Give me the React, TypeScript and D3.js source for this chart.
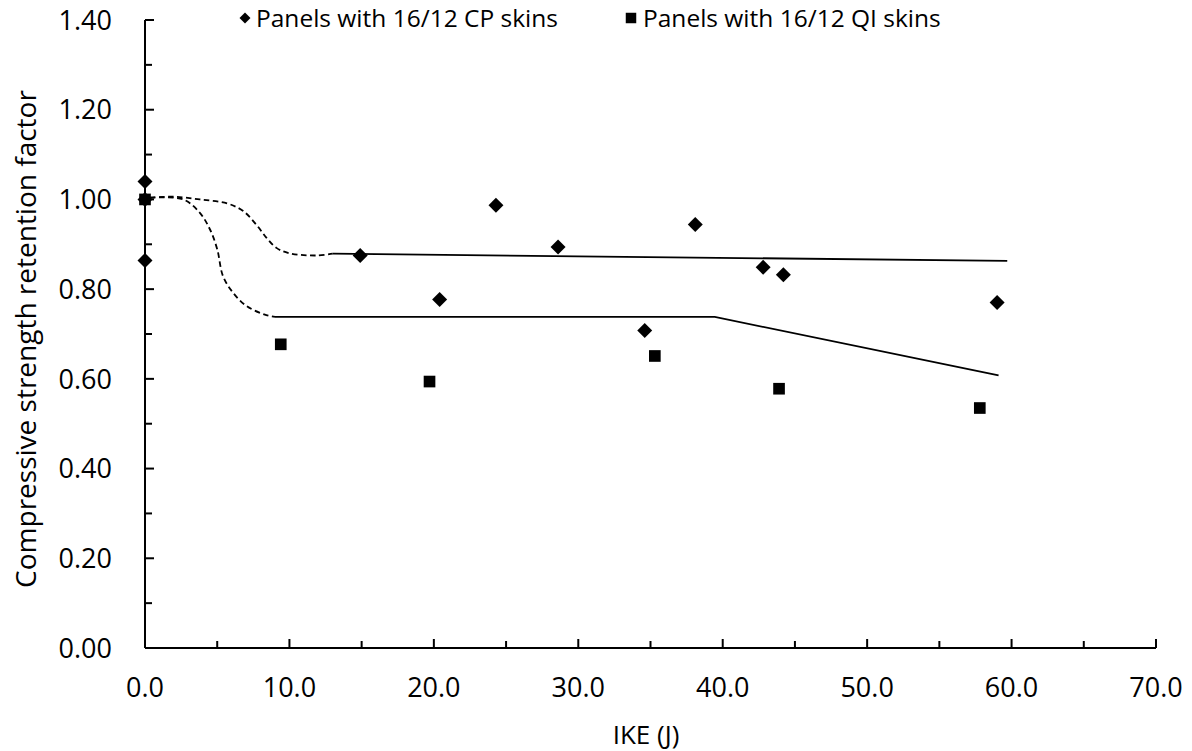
import React, { useEffect } from 'react';
import * as d3 from 'd3';

// values
const cpIKE = [0, 0, 0, 14.9, 20.4, 24.3, 28.6, 34.6, 38.1, 42.8, 44.2, 59.0];
const cpCSRF = [1.04, 1.0, 0.864, 0.875, 0.777, 0.987, 0.894, 0.708, 0.944, 0.849, 0.832, 0.77];

const qiIKE = [0, 9.4, 19.7, 35.3, 43.9, 57.8];
const qiCSRF = [1.0, 0.677, 0.594, 0.651, 0.578, 0.535];

// trend lines (solid) and the dashed transitions near zero energy
const cpTrendIKE = [13.0, 59.7];
const cpTrendCSRF = [0.879, 0.863];
const qiTrendIKE = [9.0, 39.45, 59.1];
const qiTrendCSRF = [0.738, 0.738, 0.608];

const cpDashIKE = [0.35, 2.0, 3.8, 5.7, 6.8, 7.7, 8.4, 9.1, 10.0, 11.9, 13.0];
const cpDashCSRF = [1.004, 1.006, 1.0, 0.991, 0.974, 0.944, 0.915, 0.892, 0.88, 0.875, 0.879];
const qiDashIKE = [0.35, 2.65, 3.8, 4.5, 5.0, 5.4, 6.1, 7.05, 8.4, 9.0];
const qiDashCSRF = [1.004, 1.0, 0.97, 0.933, 0.889, 0.829, 0.792, 0.762, 0.742, 0.738];

const xTicks = [0, 10, 20, 30, 40, 50, 60, 70];
const xMinor = [5, 15, 25, 35, 45, 55, 65];
const yTicks = [0, 0.2, 0.4, 0.6, 0.8, 1.0, 1.2, 1.4];
const yMinor = [0.1, 0.3, 0.5, 0.7, 0.9, 1.1, 1.3];

const legendLabels = ['Panels with 16/12 CP skins', 'Panels with 16/12 QI skins'];

const W = 1192;
const H = 751;
const FONT = "'Open Sans', sans-serif";

const zip = (xs: number[], ys: number[]) => xs.map((x, i) => [x, ys[i]] as [number, number]);

export default function App() {
  useEffect(() => {
    document.body.style.margin = '0';
  }, []);

  const x = d3.scaleLinear().domain([0, 70]).range([145, 1156]);
  const y = d3.scaleLinear().domain([0, 1.4]).range([648, 20]);

  const straight = d3.line<[number, number]>().x(d => x(d[0])).y(d => y(d[1]));
  const smooth = d3.line<[number, number]>().x(d => x(d[0])).y(d => y(d[1])).curve(d3.curveCatmullRom.alpha(0.5));

  const diamond = d3.symbol().type(d3.symbolSquare).size(112)();
  const square = d3.symbol().type(d3.symbolSquare).size(136)();
  const legDiamond = d3.symbol().type(d3.symbolSquare).size(60)();
  const legSquare = d3.symbol().type(d3.symbolSquare).size(110)();

  const x0 = x(0);
  const y0 = y(0);

  return (
    <svg width={W} height={H} style={{ display: 'block', background: '#fff' }} fontFamily={FONT}>
      {/* trend lines */}
      <path d={straight(zip(cpTrendIKE, cpTrendCSRF)) || ''} fill="none" stroke="#000" strokeWidth={1.8} />
      <path d={straight(zip(qiTrendIKE, qiTrendCSRF)) || ''} fill="none" stroke="#000" strokeWidth={1.8} />
      <path d={smooth(zip(cpDashIKE, cpDashCSRF)) || ''} fill="none" stroke="#000" strokeWidth={1.8} strokeDasharray="5.5,3.5" />
      <path d={smooth(zip(qiDashIKE, qiDashCSRF)) || ''} fill="none" stroke="#000" strokeWidth={1.8} strokeDasharray="5.5,3.5" />

      {/* axes */}
      <line x1={x0} x2={x0} y1={y(1.4)} y2={y0} stroke="#000" strokeWidth={2} />
      <line x1={x0} x2={x(70)} y1={y0} y2={y0} stroke="#000" strokeWidth={2} />
      {yTicks.map(t => (
        <g key={'y' + t}>
          <line x1={x0} x2={x0 + 9} y1={y(t)} y2={y(t)} stroke="#000" strokeWidth={2} />
          <text x={112} y={y(t)} dy="0.36em" textAnchor="end" fontSize={27} fill="#000">
            {d3.format('.2f')(t)}
          </text>
        </g>
      ))}
      {yMinor.map(t => (
        <line key={'ym' + t} x1={x0} x2={x0 + 7} y1={y(t)} y2={y(t)} stroke="#000" strokeWidth={2} />
      ))}
      {xTicks.map(t => (
        <g key={'x' + t}>
          <line x1={x(t)} x2={x(t)} y1={y0} y2={y0 - 9} stroke="#000" strokeWidth={2} />
          <text x={x(t)} y={697} textAnchor="middle" fontSize={27} fill="#000">
            {d3.format('.1f')(t)}
          </text>
        </g>
      ))}
      {xMinor.map(t => (
        <line key={'xm' + t} x1={x(t)} x2={x(t)} y1={y0} y2={y0 - 7} stroke="#000" strokeWidth={2} />
      ))}

      {/* axis titles */}
      <text x={646} y={744} textAnchor="middle" fontSize={26} fill="#000">IKE (J)</text>
      <text transform={`translate(36,${339}) rotate(-90)`} textAnchor="middle" fontSize={28} fill="#000">
        Compressive strength retention factor
      </text>

      {/* points */}
      {zip(cpIKE, cpCSRF).map((d, i) => (
        <path key={'cp' + i} d={diamond || ''} transform={`translate(${x(d[0])},${y(d[1])}) rotate(45)`} fill="#000" />
      ))}
      {zip(qiIKE, qiCSRF).map((d, i) => (
        <path key={'qi' + i} d={square || ''} transform={`translate(${x(d[0])},${y(d[1])})`} fill="#000" />
      ))}

      {/* legend */}
      <path d={legDiamond || ''} transform="translate(245,18) rotate(45)" fill="#000" />
      <text x={256} y={27} fontSize={24.5} fill="#000">{legendLabels[0]}</text>
      <path d={legSquare || ''} transform="translate(631,18)" fill="#000" />
      <text x={643} y={27} fontSize={24.5} fill="#000">{legendLabels[1]}</text>
    </svg>
  );
}
